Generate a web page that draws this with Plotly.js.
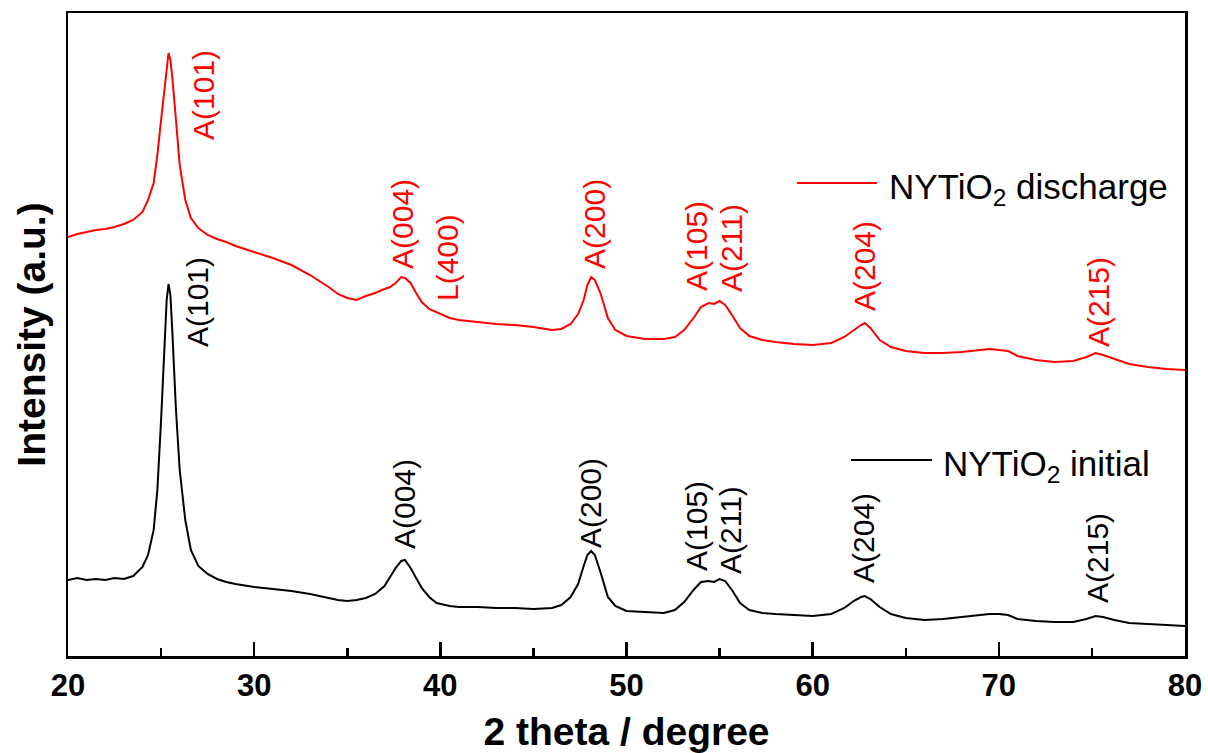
<!DOCTYPE html>
<html>
<head>
<meta charset="utf-8">
<script src="https://cdn.plot.ly/plotly-3.0.1.min.js"></script>
<style>html,body{margin:0;padding:0;background:#fff;}#chart{width:1208px;height:753px;}</style>
</head>
<body>
<div id="chart"></div>
<script>
// 2 theta (degree)
const twoTheta = [20,20.5,21,21.5,22,22.5,23,23.5,24,24.3,24.6,24.8,25.0,25.2,25.3,25.4,25.5,25.6,25.8,26.0,26.3,26.6,27,27.5,28,28.5,29,30,31,32,33,34,34.5,35,35.5,36,36.5,37,37.3,37.6,37.9,38.1,38.4,38.7,39.0,39.4,39.8,40.5,41,42,43,44,45,46,46.5,47,47.4,47.7,47.9,48.1,48.3,48.6,49.0,49.4,50,51,52,52.6,53.1,53.6,54.0,54.4,54.7,55.0,55.3,55.7,56.1,56.6,57.3,58,59,60,61,61.7,62.2,62.6,62.8,63.1,63.6,64.2,65,66,67,68,69,69.5,70,70.5,71,72,73,74,74.7,75.2,75.6,76.2,77,78,79,80];

// NYTiO2 initial (a.u.)
const initialIntensity = [760,780,760,770,760,780,770,800,890,1010,1260,1660,2360,3260,3560,3720,3610,3260,2460,1860,1360,1060,900,820,770,740,720,690,670,650,620,580,560,550,560,580,620,700,790,880,950,960,880,780,680,590,530,500,490,490,480,480,470,480,510,590,720,900,1010,1050,1010,840,590,500,450,440,430,460,540,660,740,750,740,770,750,650,530,460,430,420,410,400,420,480,550,590,600,570,490,420,380,360,370,390,410,420,420,410,370,350,340,340,370,400,390,360,330,320,310,300];

// NYTiO2 discharge (a.u., offset)
const dischargeIntensity = [4190,4220,4240,4260,4270,4290,4320,4360,4440,4560,4730,5010,5360,5730,5910,6030,5960,5790,5360,4910,4560,4380,4280,4210,4170,4140,4100,4040,3980,3910,3810,3690,3620,3580,3560,3600,3630,3670,3690,3730,3790,3780,3730,3630,3540,3470,3440,3380,3360,3340,3320,3310,3290,3260,3270,3320,3420,3560,3710,3790,3760,3630,3380,3260,3200,3170,3170,3190,3260,3380,3490,3530,3520,3550,3510,3400,3280,3200,3160,3140,3120,3110,3130,3190,3260,3310,3330,3280,3160,3090,3050,3030,3030,3040,3060,3070,3060,3050,3000,2960,2940,2950,2990,3030,3010,2970,2920,2890,2870,2860];

// peak labels
const dischargeLabels = ["A(101)","A(004)","L(400)","A(200)","A(105)","A(211)","A(204)","A(215)"];
const dischargeLabelX = [27.25,37.94,40.36,48.25,53.73,55.61,62.76,75.33];
const dischargeLabelY = [5610,4320,3980,4320,4100,4080,3900,3540];

const initialLabels = ["A(101)","A(004)","A(200)","A(105)","A(211)","A(204)","A(215)"];
const initialLabelX = [26.93,38.05,48.04,53.73,55.56,62.70,75.27];
const initialLabelY = [3540,1520,1530,1300,1260,1180,980];

const seriesNames = ["NYTiO<sub>2</sub> discharge","NYTiO<sub>2</sub> initial"];
const xTicks = [20,30,40,50,60,70,80];

const FONT = 'Arial, "Liberation Sans", sans-serif';
const RED = '#ff0000';

const traces = [
  {x: twoTheta, y: initialIntensity, type: 'scatter', mode: 'lines', name: seriesNames[1],
   line: {color: '#000000', width: 2}, showlegend: false},
  {x: twoTheta, y: dischargeIntensity, type: 'scatter', mode: 'lines', name: seriesNames[0],
   line: {color: RED, width: 2}, showlegend: false}
];

const annotations = [];
dischargeLabels.forEach((t, i) => annotations.push({
  x: dischargeLabelX[i], y: dischargeLabelY[i], xref: 'x', yref: 'y', text: t,
  textangle: -90, showarrow: false, xanchor: 'center', yanchor: 'middle',
  font: {family: FONT, size: 30, color: RED}
}));
initialLabels.forEach((t, i) => annotations.push({
  x: initialLabelX[i], y: initialLabelY[i], xref: 'x', yref: 'y', text: t,
  textangle: -90, showarrow: false, xanchor: 'center', yanchor: 'middle',
  font: {family: FONT, size: 30, color: '#000000'}
}));
// manual legend text
annotations.push({x: 0.7332, y: 0.726, xref: 'paper', yref: 'paper', text: seriesNames[0],
  showarrow: false, xanchor: 'left', yanchor: 'middle', font: {family: FONT, size: 35, color: '#000'}});
annotations.push({x: 0.7815, y: 0.295, xref: 'paper', yref: 'paper', text: seriesNames[1],
  showarrow: false, xanchor: 'left', yanchor: 'middle', font: {family: FONT, size: 35, color: '#000'}});

const shapes = [
  {type: 'line', xref: 'paper', yref: 'paper', x0: 0.6527, x1: 0.7243, y0: 0.7356, y1: 0.7356,
   line: {color: RED, width: 2}},
  {type: 'line', xref: 'paper', yref: 'paper', x0: 0.701, x1: 0.7735, y0: 0.3048, y1: 0.3048,
   line: {color: '#000', width: 2}}
];

const layout = {
  width: 1208, height: 753,
  margin: {l: 68, r: 23, t: 13, b: 97},
  paper_bgcolor: '#ffffff', plot_bgcolor: '#ffffff',
  showlegend: false,
  xaxis: {
    range: [20, 80], tickvals: xTicks, ticktext: xTicks.map(String),
    ticks: 'inside', ticklen: 14, tickwidth: 2.5, tickcolor: '#000',
    minor: {dtick: 5, ticks: 'inside', ticklen: 8, tickwidth: 2.5, tickcolor: '#000'},
    showline: true, linecolor: '#000', linewidth: 2.5, mirror: true,
    showgrid: false, zeroline: false,
    tickfont: {family: FONT, size: 31, color: '#000', weight: 'bold'},
    title: {text: '2 theta / degree', standoff: 16,
            font: {family: FONT, size: 39, color: '#000', weight: 'bold'}}
  },
  yaxis: {
    range: [0, 6430], showticklabels: false, ticks: '',
    showline: true, linecolor: '#000', linewidth: 2.5, mirror: true,
    showgrid: false, zeroline: false,
    title: {text: 'Intensity (a.u.)', standoff: 8,
            font: {family: FONT, size: 39, color: '#000', weight: 'bold'}}
  },
  annotations: annotations,
  shapes: shapes
};

Plotly.newPlot('chart', traces, layout, {displayModeBar: false, staticPlot: true});
</script>
</body>
</html>
